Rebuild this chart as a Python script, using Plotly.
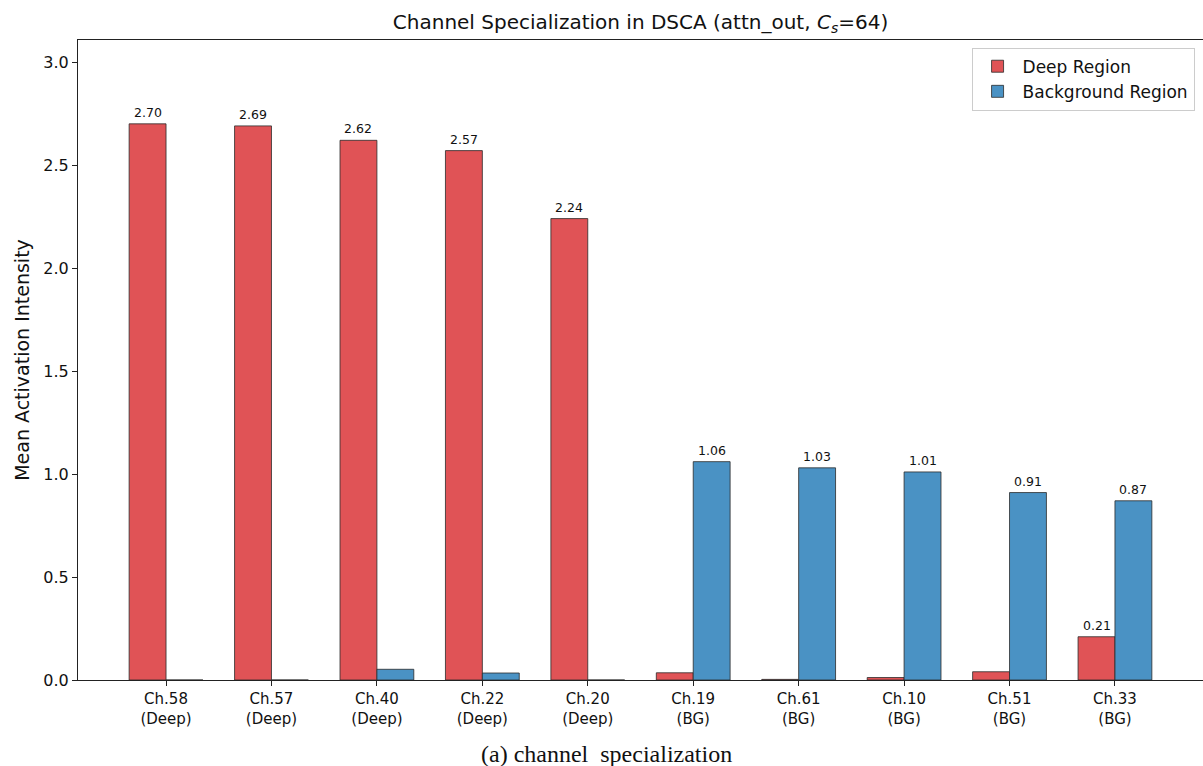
import plotly.graph_objects as go

channels = ["Ch.58", "Ch.57", "Ch.40", "Ch.22", "Ch.20",
            "Ch.19", "Ch.61", "Ch.10", "Ch.51", "Ch.33"]
groups = ["Deep", "Deep", "Deep", "Deep", "Deep",
          "BG", "BG", "BG", "BG", "BG"]
deep_region = [2.70, 2.69, 2.62, 2.57, 2.24, 0.035, 0.003, 0.012, 0.040, 0.21]
background_region = [0.0, 0.0, 0.052, 0.034, 0.0, 1.06, 1.03, 1.01, 0.91, 0.87]

tick_labels = [f"{c}<br>({g})" for c, g in zip(channels, groups)]
positions = list(range(len(channels)))
bar_w = 0.35

RED = "#E05356"
BLUE = "#4A92C4"
EDGE = "#2b2b2b"
FONT = "DejaVu Sans"

fig = go.Figure()
fig.add_trace(go.Bar(
    x=positions, y=deep_region, name="Deep Region",
    width=bar_w, offset=-bar_w,
    marker=dict(color=RED, line=dict(color=EDGE, width=0.8)),
))
fig.add_trace(go.Bar(
    x=positions, y=background_region, name="Background Region",
    width=bar_w, offset=0,
    marker=dict(color=BLUE, line=dict(color=EDGE, width=0.8)),
))

# value labels above the notable bars
for xs, vals, shift in ((positions, deep_region, -bar_w / 2),
                        (positions, background_region, bar_w / 2)):
    for x, v in zip(xs, vals):
        if v > 0.1:
            fig.add_annotation(
                x=x + shift, y=v, text=f"{v:.2f}",
                xref="x", yref="y", showarrow=False,
                xanchor="center", yanchor="bottom", yshift=2,
                font=dict(size=12.5, family=FONT, color="#111"),
            )

fig.update_layout(
    width=1203, height=766,
    margin=dict(l=78, r=0, t=40, b=86),
    plot_bgcolor="white", paper_bgcolor="white",
    font=dict(family=FONT, size=15, color="#111"),
    barmode="overlay",
    title=dict(
        text="Channel Specialization in DSCA (attn_out, <i>C</i><sub><i>s</i></sub>=64)",
        x=0.5, xref="paper", xanchor="center", y=0.971, yanchor="middle",
        font=dict(size=20, family=FONT, color="#111"),
    ),
    legend=dict(
        x=0.9925, y=0.988, xanchor="right", yanchor="top",
        bordercolor="#cccccc", borderwidth=1, bgcolor="white",
        font=dict(size=17, family=FONT),
        itemwidth=40,
    ),
    showlegend=True,
)
fig.update_xaxes(
    range=[-0.835, 9.835],
    tickmode="array", tickvals=positions, ticktext=tick_labels,
    showline=True, linecolor="#222", linewidth=1.2, mirror=True,
    ticks="outside", ticklen=5, tickcolor="#222",
    showgrid=False, zeroline=False,
    tickfont=dict(size=15, family=FONT),
)
fig.update_yaxes(
    range=[0, 3.107],
    tickmode="array", tickvals=[0, 0.5, 1.0, 1.5, 2.0, 2.5, 3.0],
    tickformat=".1f",
    showline=True, linecolor="#222", linewidth=1.2,
    ticks="outside", ticklen=5, tickcolor="#222",
    showgrid=False, zeroline=False,
    tickfont=dict(size=16, family=FONT),
    title=dict(text="Mean Activation Intensity", font=dict(size=19, family=FONT), standoff=8),
)

fig.add_annotation(
    text="(a) channel&nbsp;&nbsp;specialization",
    xref="paper", yref="paper", x=0.470, y=-0.1156,
    xanchor="center", yanchor="middle", showarrow=False,
    font=dict(family="Liberation Serif", size=24, color="#111"),
)

fig.write_html("out.html")
